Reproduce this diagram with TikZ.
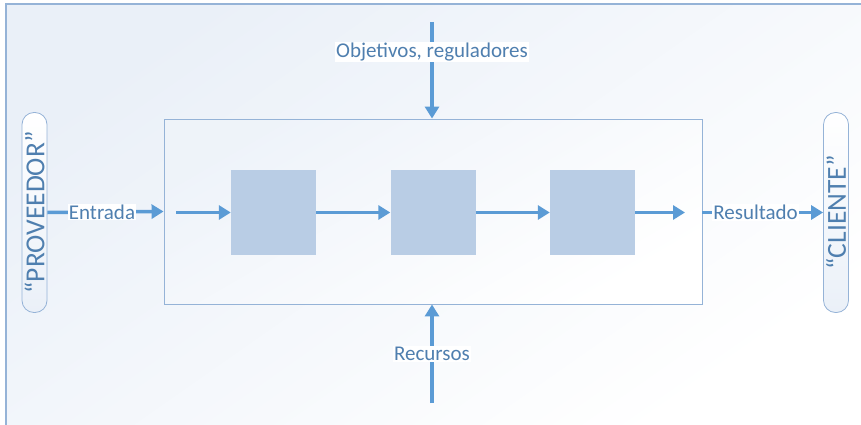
\documentclass[tikz,border=0pt]{standalone}
\usepackage{fontspec}
\setmainfont{Carlito}
\usetikzlibrary{arrows.meta}

\definecolor{flowblue}{HTML}{5B9BD5}
\definecolor{stagefill}{HTML}{B9CDE5}
\definecolor{framecol}{HTML}{95B3D7}
\definecolor{labelcol}{HTML}{4F7FAF}
\definecolor{tintbg}{HTML}{EAF0F8}

\tikzset{
  flow/.style={draw=flowblue, line width=3.5pt,
    -{Triangle[length=12pt,width=14pt]}},
  stage/.style={fill=stagefill, draw=none, minimum width=85pt, minimum height=85pt, inner sep=0pt},
  party/.style={draw=framecol, line width=0.8pt, rounded corners=12pt,
    top color=white, bottom color=tintbg, rotate=90,
    minimum width=200pt, minimum height=25pt, inner sep=0pt,
    text=labelcol, font=\fontsize{27.5}{27.5}\selectfont},
  tag/.style={fill=white, inner sep=1pt, text=labelcol, font=\fontsize{21}{24}\selectfont},
}

\begin{document}
\begin{tikzpicture}[x=1pt, y=-1pt]
  \useasboundingbox (0,0) rectangle (861,425);

  % page background and its frame
  \fill[white] (0,0) rectangle (861,425);
  \shade[shading=axis, top color=tintbg, bottom color=white, shading angle=35]
    (6,4) rectangle (861,425);
  \draw[framecol, line width=1.4pt] (6,425) -- (6,4) -- (861,4);

  % process container
  \node[draw=framecol, line width=0.9pt, shading=axis, top color=tintbg!80, bottom color=white,
        shading angle=30, minimum width=538pt, minimum height=185pt, inner sep=0pt]
    (proc) at (433,211.5) {};

  % stages inside the process
  \node[stage] (b1) at (273.5,212.5) {};
  \node[stage] (b2) at (433,212.5) {};
  \node[stage] (b3) at (592.5,212.5) {};

  \coordinate (in0)  at (176,212.5);
  \coordinate (out0) at (685,212.5);
  \draw[flow] (in0) -- (b1.west);
  \draw[flow] (b1.east) -- (b2.west);
  \draw[flow] (b2.east) -- (b3.west);
  \draw[flow] (b3.east) -- (out0);

  % supplier and customer
  \node[party] (prov) at (34.5,212.5) {“PROVEEDOR”};
  \node[party] (cli)  at (836,212.5) {“CLIENTE”};

  \draw[flow] (prov.south) -- node[tag, pos=0.47] {Entrada} (proc.west);
  \draw[flow] (proc.east |- 0,212.5) -- node[tag, pos=0.44] {Resultado} (cli.north);

  % controls and resources
  \coordinate (top0) at (432,22);
  \coordinate (bot0) at (432,403);
  \draw[flow] (top0) -- node[tag, pos=0.31] {Objetivos, reguladores} (top0 |- proc.north);
  \draw[flow] (bot0) -- node[tag, pos=0.5] {Recursos} (bot0 |- proc.south);
\end{tikzpicture}
\end{document}
